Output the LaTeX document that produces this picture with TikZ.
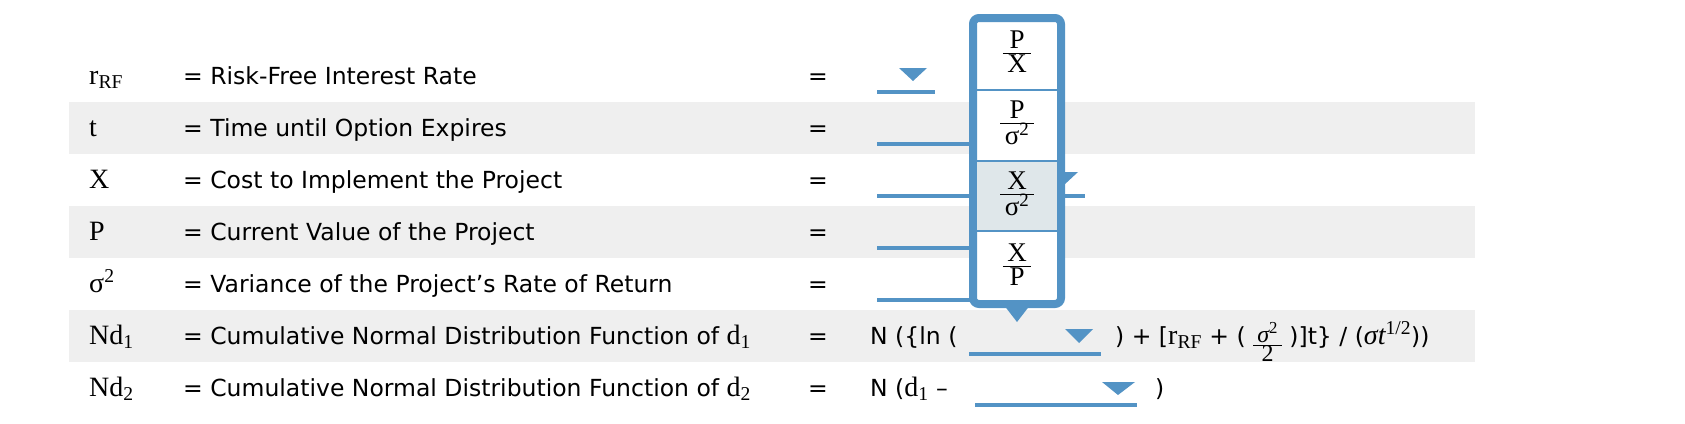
\documentclass[tikz,border=0pt]{standalone}
\usepackage{fontspec}
\setmainfont{DejaVu Sans}
\newfontfamily\serif{Liberation Serif}
\definecolor{band}{HTML}{EFEFEF}
\definecolor{blu}{HTML}{5393C5}
\definecolor{hil}{HTML}{DFE7EA}
\newcommand{\bigser}{\serif\fontsize{28}{30}\selectfont}
\begin{document}
\begin{tikzpicture}[x=1pt,y=-1pt,
  sym/.style={anchor=base west,inner sep=0,font=\bigser},
  txt/.style={anchor=base west,inner sep=0,font=\fontsize{23.5}{26}\selectfont},
  eqs/.style={anchor=base,inner sep=0,font=\fontsize{23.5}{26}\selectfont},
  blank/.style={draw=blu,line width=4pt},
  tri/.style={fill=blu},
  frac/.style={inner sep=0,font=\serif\fontsize{27}{28}\selectfont}]
\useasboundingbox (0,0) rectangle (1685,423);
\fill[band] (69,102) rectangle (1475,154);
\fill[band] (69,206) rectangle (1475,258);
\fill[band] (69,310) rectangle (1475,362);
% symbols
\node[sym] (s1) at (89,84) {r\textsubscript{RF}};
\node[sym] (s2) at (89,136) {t};
\node[sym] (s3) at (89,188) {X};
\node[sym] (s4) at (89,240) {P};
\node[sym] (s5) at (89,292) {σ\textsuperscript{2}};
\node[sym] (s6) at (89,344) {Nd\textsubscript{1}};
\node[sym] (s7) at (89,396) {Nd\textsubscript{2}};
% descriptions
\node[txt] (d1) at (183,84) {= Risk-Free Interest Rate};
\node[txt] (d2) at (183,136) {= Time until Option Expires};
\node[txt] (d3) at (183,188) {= Cost to Implement the Project};
\node[txt] (d4) at (183,240) {= Current Value of the Project};
\node[txt] (d5) at (183,292) {= Variance of the Project’s Rate of Return};
\node[txt] (d6) at (183,344) {= Cumulative Normal Distribution Function of {\bigser d\textsubscript{1}}};
\node[txt] (d7) at (183,396) {= Cumulative Normal Distribution Function of {\bigser d\textsubscript{2}}};
% equals
\foreach \i/\y in {1/84,2/136,3/188,4/240,5/292,6/344,7/396}
  \node[eqs] (e\i) at (818,\y) {=};
% blanks
\draw[blank] (877,92) -- (935,92);
\fill[tri] (899,68) -- (927,68) -- (913,81) -- cycle;
\draw[blank] (877,144) -- (1000,144);
\fill[tri] (1050,172) -- (1078,172) -- (1064,185) -- cycle;
\draw[blank] (877,196) -- (1085,196);
\draw[blank] (877,248) -- (1000,248);
\draw[blank] (877,300) -- (1000,300);
% row 6 formula
\node[txt] (f6a) at (870,344) {N (\{ln (};
\draw[blank] (969,354) -- (1101,354);
\fill[tri] (1065,329) -- (1093,329) -- (1079,343) -- cycle;
\node[txt] (f6b) at (1115,344) {) + [{\bigser r\textsubscript{RF}} + ( \raisebox{-8pt}{\serif\fontsize{24}{24}\selectfont\begin{tabular}{@{\,}c@{\,}}\itshape σ\textsuperscript{\upshape 2}\\[-5pt]\hline 2\end{tabular}} )]t\} / ({\bigser\itshape σt\textsuperscript{\upshape 1/2}}))};
% row 7 formula
\node[txt] (f7a) at (870,396) {N ({\bigser d\textsubscript{1}} –};
\draw[blank] (975,405) -- (1137,405);
\fill[tri] (1102,382) -- (1135,382) -- (1118,395) -- cycle;
\node[txt] (f7b) at (1155,396) {)};
% popup
\fill[tri] (1000,300) -- (1034,300) -- (1017,322) -- cycle;
\draw[draw=blu,line width=8pt,fill=white,rounded corners=6pt] (973,18) rectangle (1061,304);
\fill[hil] (977,161) rectangle (1057,231);
\foreach \y in {90,161,231} \draw[blu,line width=2pt] (977,\y) -- (1057,\y);
\node[frac] (o1) at (1017,55) {\begin{tabular}{@{\,}c@{\,}}P\\[-4pt]\hline X\end{tabular}};
\node[frac] (o2) at (1017,126) {\begin{tabular}{@{\,}c@{\,}}P\\[-4pt]\hline σ\textsuperscript{2}\end{tabular}};
\node[frac] (o3) at (1017,197) {\begin{tabular}{@{\,}c@{\,}}X\\[-4pt]\hline σ\textsuperscript{2}\end{tabular}};
\node[frac] (o4) at (1017,268) {\begin{tabular}{@{\,}c@{\,}}X\\[-4pt]\hline P\end{tabular}};
\end{tikzpicture}
\end{document}
